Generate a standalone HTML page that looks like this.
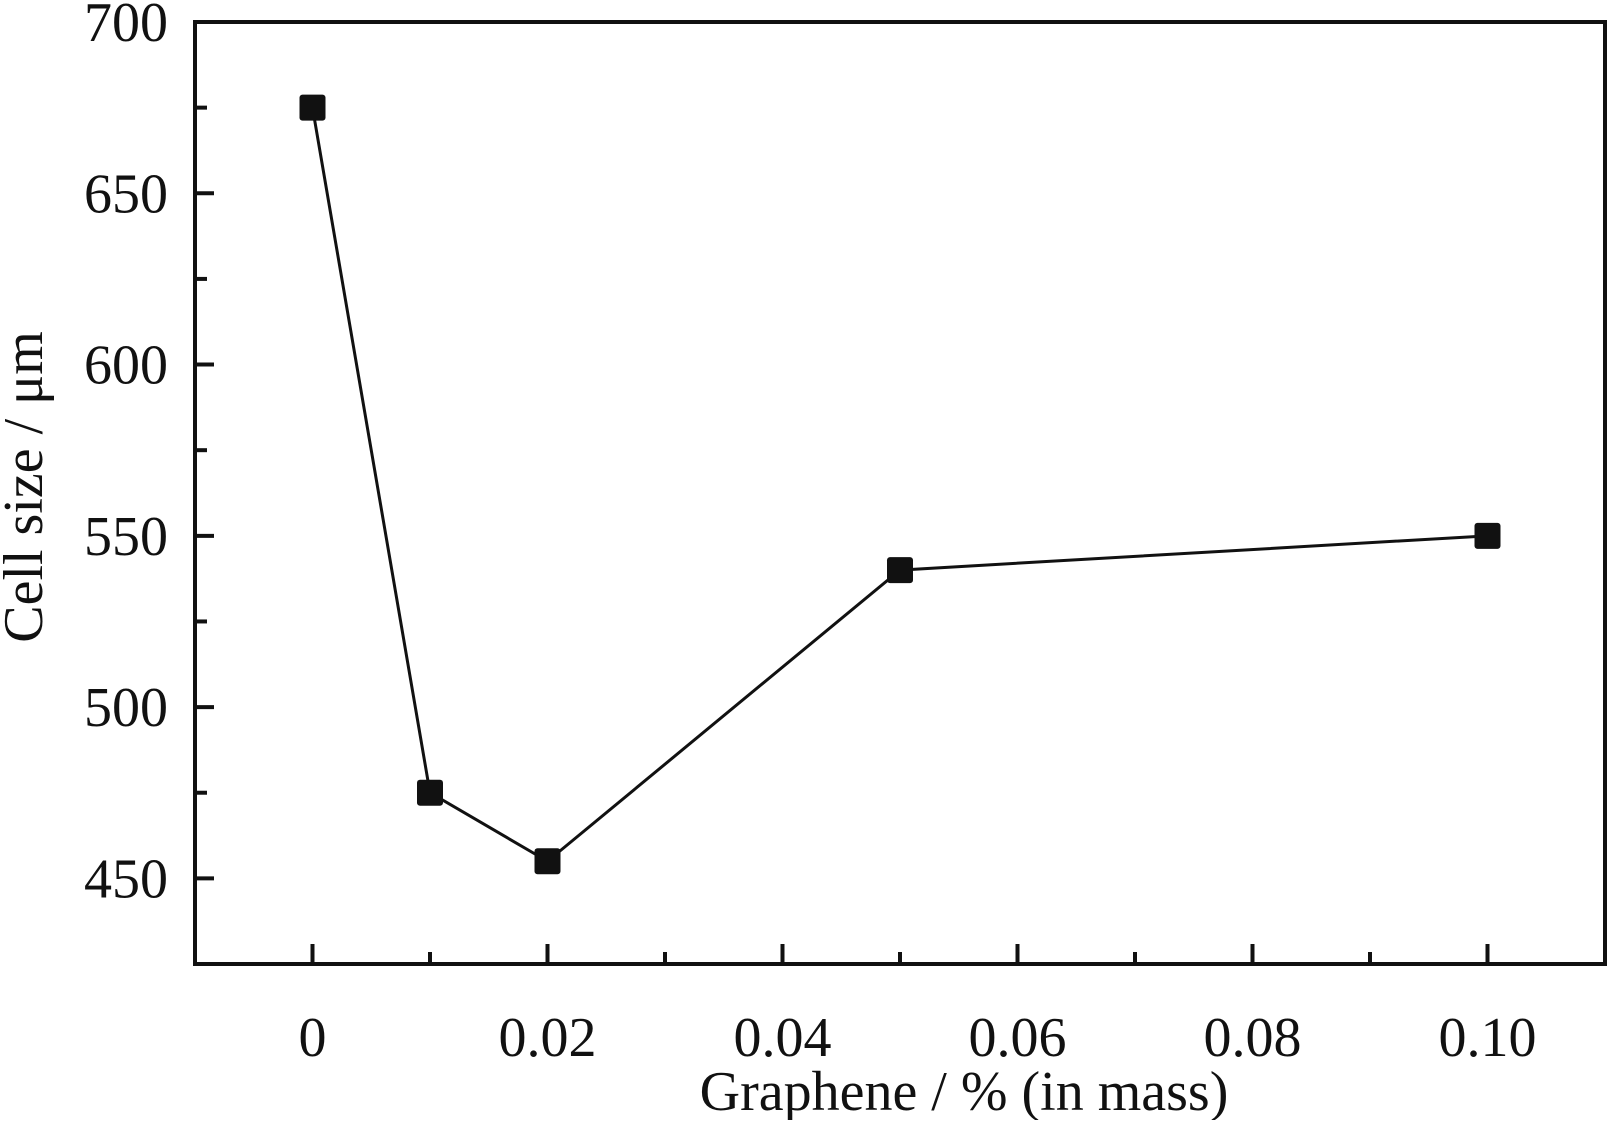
<!DOCTYPE html>
<html><head><meta charset="utf-8"><style>
html,body{margin:0;padding:0;background:#fff;}
svg text{font-family:"Liberation Serif",serif;fill:#111;}
</style></head><body>
<svg id="chart" width="1608" height="1120" viewBox="0 0 1608 1120" xmlns="http://www.w3.org/2000/svg">
<g id="axes"></g>
<g id="series"></g>
<text transform="translate(42,487) rotate(-90)" text-anchor="middle" font-size="56">Cell size / μm</text>
<text x="964" y="1110" text-anchor="middle" font-size="56">Graphene / % (in mass)</text>
</svg>
<script>
const xValues = [0, 0.01, 0.02, 0.05, 0.10];
const yValues = [675, 475, 455, 540, 550];
const xTickValues = [0, 0.02, 0.04, 0.06, 0.08, 0.10];
const xTickLabels = ["0", "0.02", "0.04", "0.06", "0.08", "0.10"];
const yTickValues = [450, 500, 550, 600, 650, 700];
const yTickLabels = ["450", "500", "550", "600", "650", "700"];

const L=195,R=1605,T=22,B=964;
const xMin=-0.01,xMax=0.11,yMin=425,yMax=700;
const sx=v=>L+(v-xMin)/(xMax-xMin)*(R-L);
const sy=v=>B-(v-yMin)/(yMax-yMin)*(B-T);
const NS="http://www.w3.org/2000/svg";
const axes=document.getElementById('axes'), series=document.getElementById('series');
function mk(tag,attrs,parent){const e=document.createElementNS(NS,tag);for(const k in attrs)e.setAttribute(k,attrs[k]);parent.appendChild(e);return e;}

const frame=mk('rect',{x:L,y:T,width:R-L,height:B-T,fill:'none',stroke:'#111','stroke-width':4},axes);



for(let i=0;i<=12;i++){
  const v=-0.01+i*0.01; const x=sx(v);
  const major=xTickValues.some(t=>Math.abs(t-v)<1e-9);
  const t=mk('line',{x1:x,x2:x,y1:B,y2:B-(major?20:12),stroke:'#111','stroke-width':4},axes);
  
  
}
xTickValues.forEach((v,i)=>{
  const t=mk('text',{x:sx(v),y:1056,'text-anchor':'middle','font-size':56},axes);
  t.textContent=xTickLabels[i];
  
  
});
for(let v=450;v<=675;v+=25){
  const y=sy(v); const major=v%50===0;
  const t=mk('line',{x1:L,x2:L+(major?19:12),y1:y,y2:y,stroke:'#111','stroke-width':4},axes);
  
  
}
yTickValues.forEach((v,i)=>{
  const t=mk('text',{x:168,y:sy(v)+19,'text-anchor':'end','font-size':56},axes);
  t.textContent=yTickLabels[i];
  
  
});
const pts=xValues.map((x,i)=>sx(x)+','+sy(yValues[i])).join(' ');
const line=mk('polyline',{points:pts,fill:'none',stroke:'#111','stroke-width':3},series);


xValues.forEach((x,i)=>{
  const m=mk('rect',{x:sx(x)-13,y:sy(yValues[i])-13,width:26,height:26,rx:3,fill:'#111'},series);
  
  
});
</script>
</body></html>
